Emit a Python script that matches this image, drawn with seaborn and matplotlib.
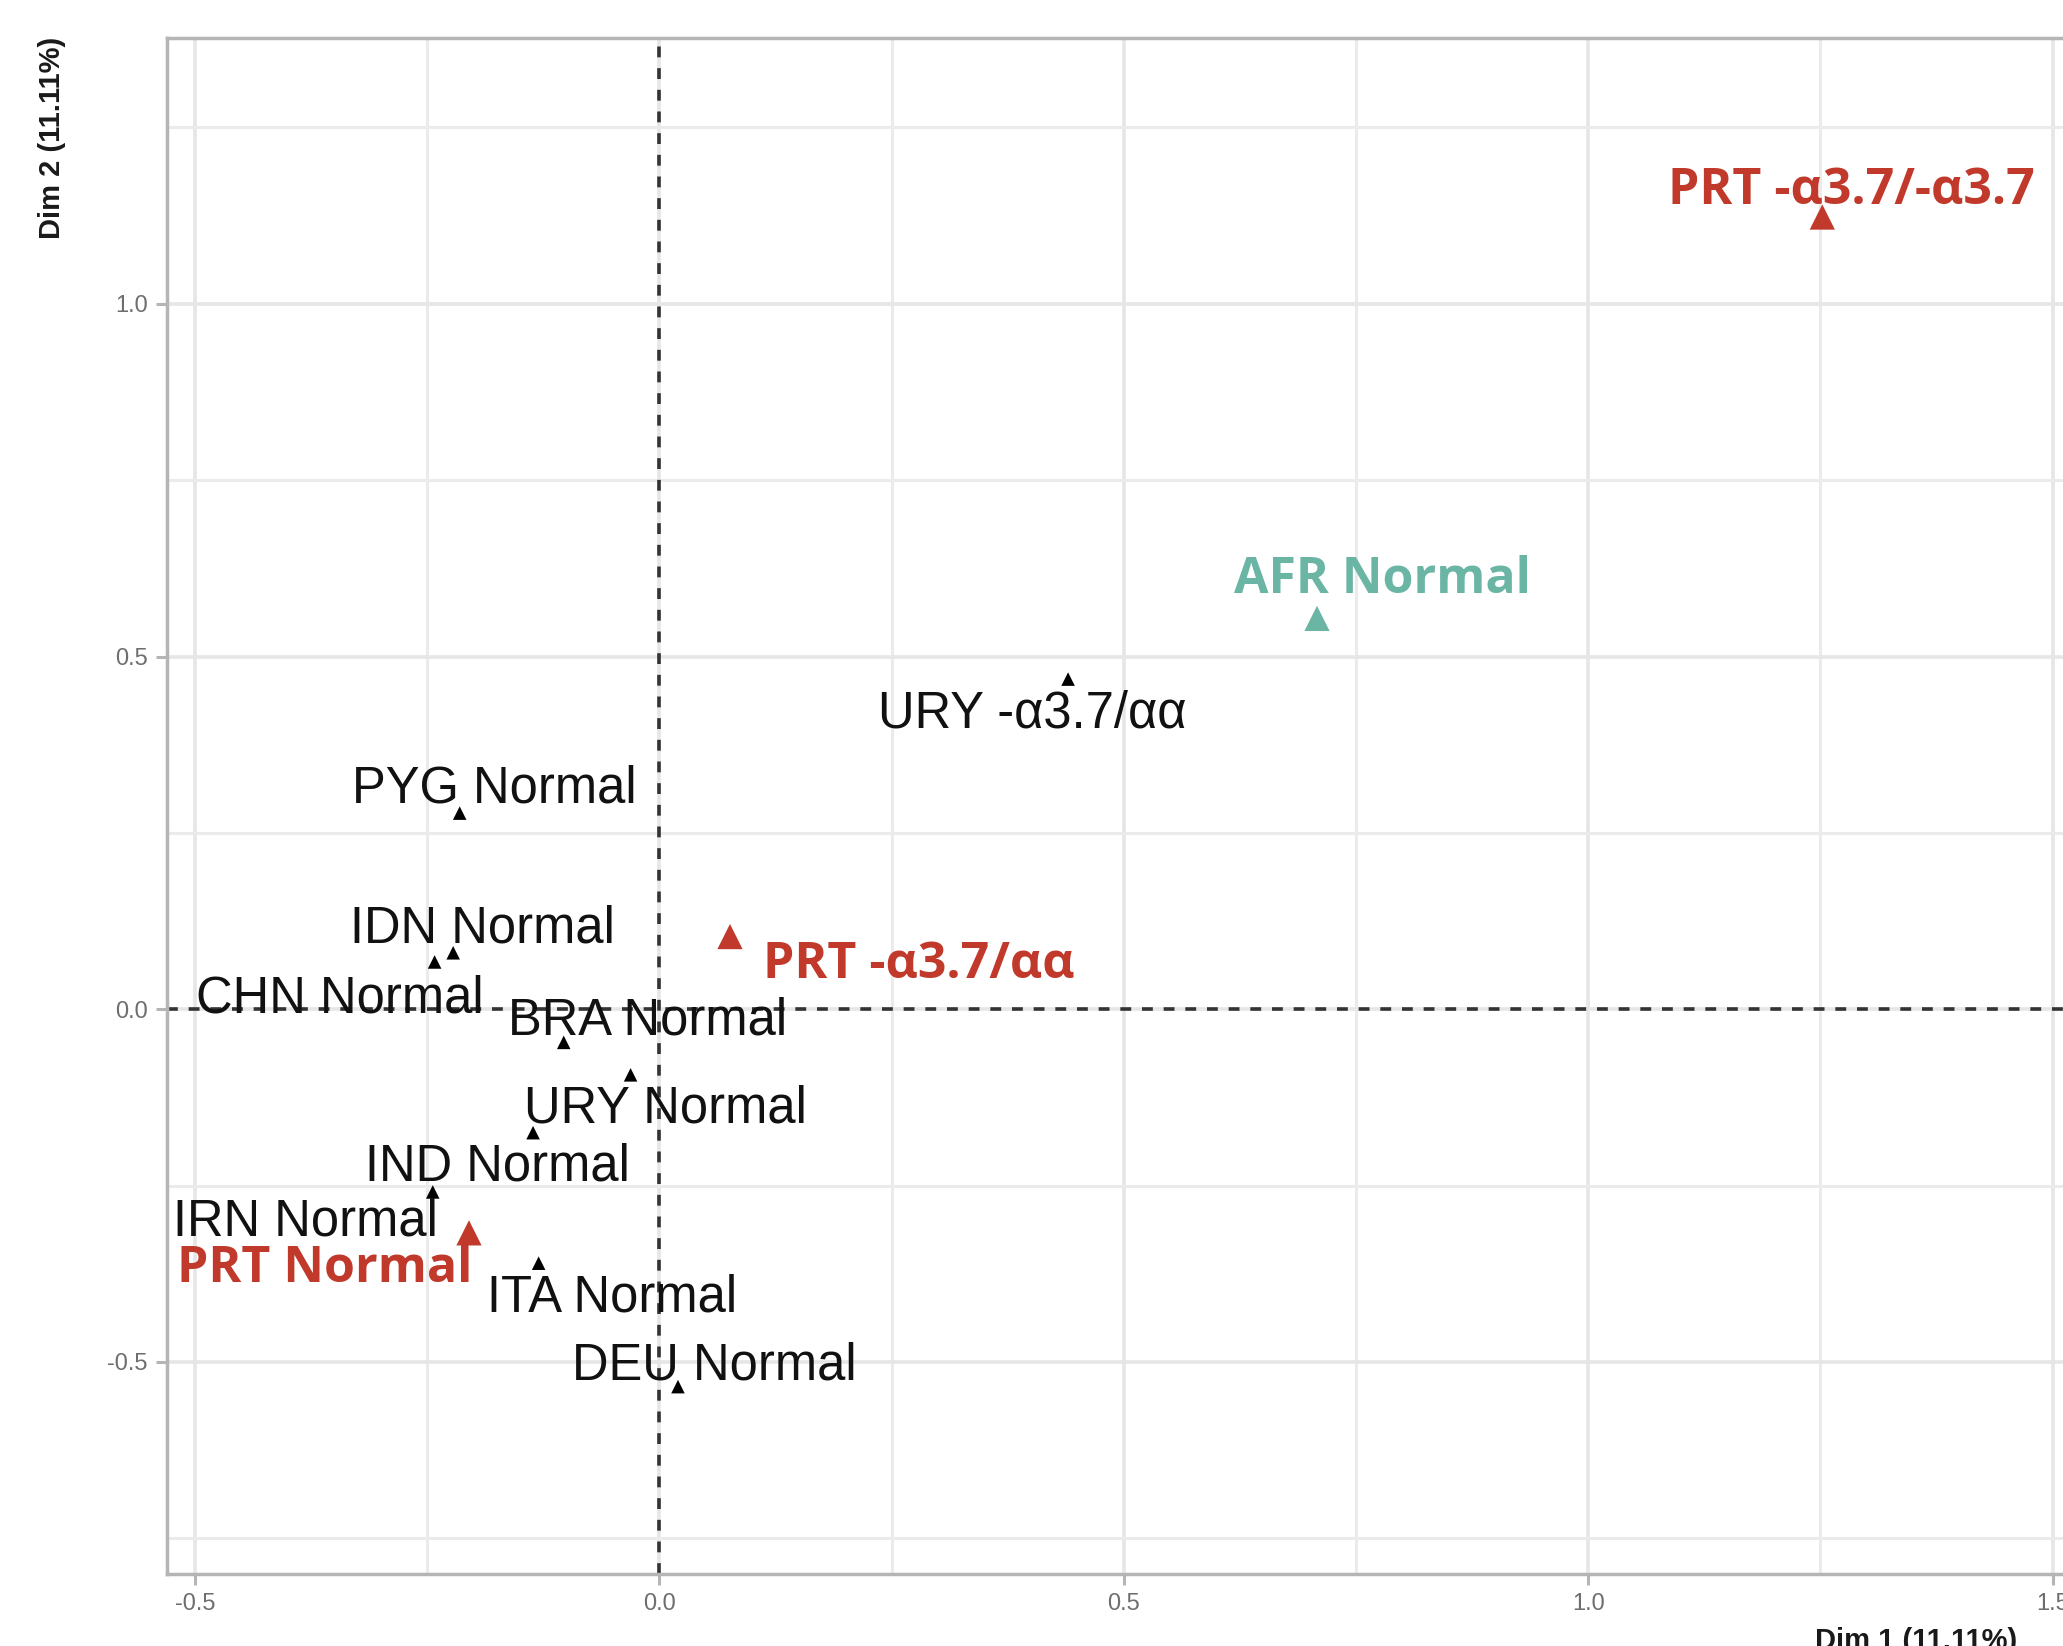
import numpy as np
import pandas as pd
import matplotlib
matplotlib.use("Agg")
import matplotlib.pyplot as plt
from matplotlib.ticker import MultipleLocator
import seaborn as sns

# PCA coordinates
labels = ["PRT -α3.7/-α3.7", "AFR Normal", "URY -α3.7/αα", "PYG Normal", "IDN Normal",
          "CHN Normal", "BRA Normal", "URY Normal", "IND Normal", "IRN Normal",
          "PRT Normal", "ITA Normal", "DEU Normal", "PRT -α3.7/αα"]
dim1 = [1.252, 0.708, 0.440, -0.215, -0.222, -0.242, -0.103, -0.031, -0.136, -0.244,
        -0.205, -0.130, 0.020, 0.076]
dim2 = [1.123, 0.554, 0.468, 0.278, 0.080, 0.067, -0.047, -0.093, -0.175, -0.259,
        -0.317, -0.360, -0.535, 0.103]
group = ["PRT", "AFR", "other", "other", "other", "other", "other", "other", "other", "other",
         "PRT", "other", "other", "PRT"]

df = pd.DataFrame({"label": labels, "dim1": dim1, "dim2": dim2, "group": group})

red = "#C0392B"
teal = "#6BB5A5"
palette = {"PRT": red, "AFR": teal, "other": "black"}

sns.set_theme(style="white")
plt.rcParams["font.family"] = ["Liberation Sans", "DejaVu Sans"]
plt.rcParams["axes.unicode_minus"] = False

fig = plt.figure(figsize=(20.63, 16.46), dpi=100)
ax = fig.add_axes([0.081, 0.044, 0.941, 0.933])

sns.scatterplot(data=df, x="dim1", y="dim2", hue="group", palette=palette,
                size="group", sizes={"PRT": 330, "AFR": 330, "other": 95},
                marker="^", linewidth=0, legend=False, ax=ax, zorder=3)

ax.set_xlim(-0.53, 1.56)
ax.set_ylim(-0.80, 1.377)

ax.xaxis.set_major_locator(MultipleLocator(0.5))
ax.yaxis.set_major_locator(MultipleLocator(0.5))
ax.xaxis.set_minor_locator(MultipleLocator(0.25))
ax.yaxis.set_minor_locator(MultipleLocator(0.25))
ax.grid(which="major", color="#E6E6E6", lw=2.6, zorder=0)
ax.grid(which="minor", color="#EBEBEB", lw=2.2, zorder=0)
ax.set_axisbelow(True)

ax.axvline(0, color="#333333", ls=(0, (3, 3)), lw=2.6, zorder=1)
ax.axhline(0, color="#333333", ls=(0, (3, 3)), lw=2.6, zorder=1)

for s in ax.spines.values():
    s.set_color("#B5B5B5")
    s.set_linewidth(2.5)

ax.tick_params(which="major", length=8, width=2.2, color="#B5B5B5",
               labelsize=17, labelcolor="#6E6E6E", pad=6, left=True, bottom=True)
ax.tick_params(which="minor", length=0)

ax.set_xlabel("Dim 1 (11.11%)", fontsize=21, fontweight="bold", color="#1A1A1A")
ax.set_ylabel("Dim 2 (11.11%)", fontsize=21, fontweight="bold", color="#1A1A1A")
ax.xaxis.set_label_coords(0.901, -0.035)
ax.yaxis.set_label_coords(-0.052, 0.935)

# label offsets from their point (data units)
offsets = {
    "PRT -α3.7/-α3.7": (-0.166, 0.037),
    "AFR Normal": (0.070, 0.054),
    "URY -α3.7/αα": (-0.039, -0.050),
    "PYG Normal": (0.037, 0.034),
    "IDN Normal": (0.032, 0.034),
    "CHN Normal": (-0.102, -0.052),
    "BRA Normal": (0.090, 0.030),
    "URY Normal": (0.038, -0.049),
    "IND Normal": (-0.038, -0.049),
    "IRN Normal": (-0.137, -0.043),
    "PRT Normal": (-0.155, -0.051),
    "ITA Normal": (0.079, -0.050),
    "DEU Normal": (0.039, 0.029),
    "PRT -α3.7/αα": (0.203, -0.041),
}

for _, r in df.iterrows():
    dx, dy = offsets[r["label"]]
    ha = "left" if r["label"] == "PRT -α3.7/-α3.7" else "center"
    if r["group"] == "other":
        ax.text(r["dim1"] + dx, r["dim2"] + dy, r["label"], ha=ha, va="center",
                fontsize=36.5, family=["Liberation Sans", "DejaVu Sans"], color="#111111", zorder=4)
    else:
        ax.text(r["dim1"] + dx, r["dim2"] + dy, r["label"], ha=ha, va="center",
                fontsize=36, fontweight="bold", family=["Open Sans", "DejaVu Sans"],
                color=palette[r["group"]], zorder=4)

fig.savefig("out.png", dpi=100)
